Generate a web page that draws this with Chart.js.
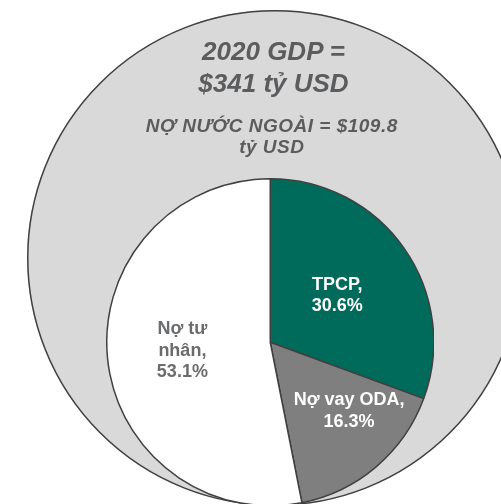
<!DOCTYPE html>
<html>
<head>
<meta charset="utf-8">
<script src="https://cdn.jsdelivr.net/npm/chart.js@4.4.1/dist/chart.umd.min.js"></script>
<style>
  html, body { margin: 0; padding: 0; width: 501px; height: 504px; overflow: hidden; background: #ffffff; }
  .box { position: absolute; }
  .txt { position: absolute; text-align: center; font-family: "Liberation Sans", Arial, sans-serif; font-weight: bold; font-style: italic; color: #5b5c5e; white-space: nowrap; }
</style>
</head>
<body>
<div id="gdpBox" class="box"><canvas id="gdpChart"></canvas></div>
<div id="pieBox" class="box"><canvas id="pieChart"></canvas></div>
<div id="title1" class="txt"></div>
<div id="title2" class="txt"></div>
<script>
// ---- data ----
const gdpYear = 2020;
const gdpValue = [341];           // tỷ USD
const externalDebtTotal = 109.8;  // tỷ USD
const categories = ["TPCP", "Nợ vay ODA", "Nợ tư nhân"];
const categoryLines = [["TPCP"], ["Nợ vay ODA"], ["Nợ tư", "nhân"]];
const shares = [30.6, 16.3, 53.1]; // %

// ---- styles ----
const sliceColors = ["#006b5a", "#7f7f7f", "#ffffff"];
const labelColors = ["#ffffff", "#ffffff", "#6b6c6e"];
const labelRadius = [0.50, 0.64, 0.54];
const labelAngleShiftDeg = [0, -8.4, 0];
const edgeColor = "#404040";
const edgeWidth = 1.5;

// geometry of the two circles (layout only)
const gdpCircle = { cx: 275, cy: 258, r: 248 };
const pieCircle = { cx: 270, cy: 342, r: 163.5 };

function placeBox(id, c, bw) {
  const s = 2 * c.r + bw;
  const el = document.getElementById(id);
  el.style.left = (c.cx - s / 2) + "px";
  el.style.top = (c.cy - s / 2) + "px";
  el.style.width = s + "px";
  el.style.height = s + "px";
}
placeBox("gdpBox", gdpCircle, 0);
placeBox("pieBox", pieCircle, edgeWidth);

// titles
const t1 = document.getElementById("title1");
t1.innerHTML = gdpYear + " GDP =<br>$" + gdpValue[0] + " tỷ USD";
Object.assign(t1.style, { fontSize: "26px", lineHeight: "32px", left: (273.5 - 150) + "px", width: "300px", top: "35px" });
const t2 = document.getElementById("title2");
t2.innerHTML = "NỢ NƯỚC NGOÀI = $" + externalDebtTotal + "<br>tỷ USD";
Object.assign(t2.style, { fontSize: "19px", letterSpacing: "0.5px", lineHeight: "21px", left: (271.8 - 150) + "px", width: "300px", top: "115px" });

const baseOpts = {
  responsive: true,
  maintainAspectRatio: false,
  animation: false,
  events: [],
  layout: { padding: 0 },
  plugins: { legend: { display: false }, tooltip: { enabled: false }, title: { display: false } }
};

// outline of the single-slice GDP disc (no radial seam)
const discOutlinePlugin = {
  id: "discOutline",
  afterDatasetsDraw(chart) {
    const arc = chart.getDatasetMeta(0).data[0];
    if (!arc) return;
    const p = arc.getProps(["x", "y", "outerRadius"], true);
    const ctx = chart.ctx;
    ctx.save();
    ctx.beginPath();
    ctx.arc(p.x, p.y, p.outerRadius - edgeWidth / 2, 0, Math.PI * 2);
    ctx.strokeStyle = edgeColor;
    ctx.lineWidth = edgeWidth;
    ctx.stroke();
    ctx.restore();
  }
};

new Chart(document.getElementById("gdpChart"), {
  type: "pie",
  data: {
    labels: ["GDP"],
    datasets: [{ data: gdpValue, backgroundColor: ["#d9d9d9"], borderWidth: 0 }]
  },
  options: baseOpts,
  plugins: [discOutlinePlugin]
});

const sliceLabelPlugin = {
  id: "sliceLabels",
  afterDatasetsDraw(chart) {
    const ctx = chart.ctx;
    const meta = chart.getDatasetMeta(0);
    ctx.save();
    ctx.font = "bold 18px 'Liberation Sans', Arial, sans-serif";
    ctx.textAlign = "center";
    ctx.textBaseline = "middle";
    const lh = 21.5;
    meta.data.forEach((arc, i) => {
      const p = arc.getProps(["x", "y", "startAngle", "endAngle", "outerRadius"], true);
      const a = (p.startAngle + p.endAngle) / 2 + labelAngleShiftDeg[i] * Math.PI / 180;
      const d = p.outerRadius * labelRadius[i];
      const x = p.x + Math.cos(a) * d;
      const y = p.y + Math.sin(a) * d;
      const lines = categoryLines[i].slice();
      lines[lines.length - 1] += ",";
      lines.push(shares[i].toFixed(1) + "%");
      ctx.fillStyle = labelColors[i];
      const y0 = y - (lines.length - 1) * lh / 2;
      lines.forEach((ln, k) => ctx.fillText(ln, x, y0 + k * lh));
    });
    ctx.restore();
  }
};

new Chart(document.getElementById("pieChart"), {
  type: "pie",
  data: {
    labels: categories,
    datasets: [{ data: shares, backgroundColor: sliceColors, borderColor: edgeColor, borderWidth: edgeWidth }]
  },
  options: baseOpts,
  plugins: [sliceLabelPlugin]
});
</script>
</body>
</html>
